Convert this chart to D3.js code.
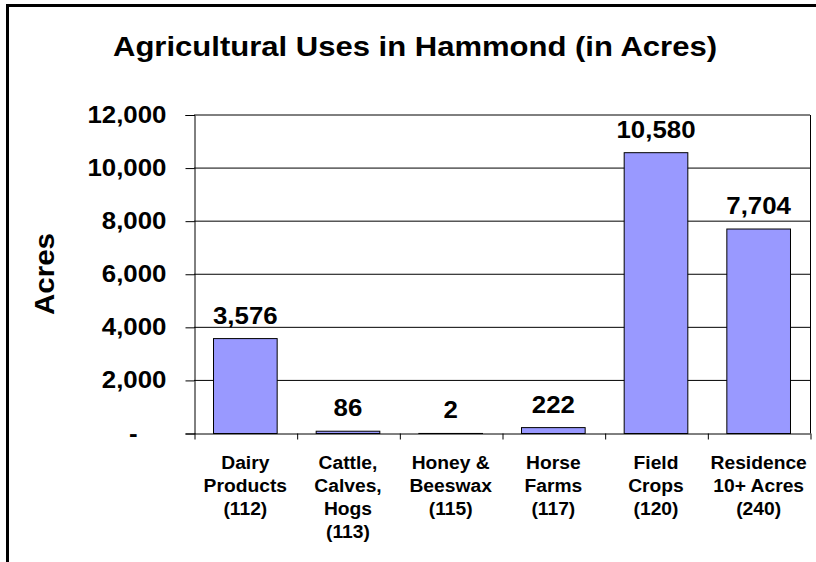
<!DOCTYPE html>
<html><head><meta charset="utf-8">
<script src="https://cdn.jsdelivr.net/npm/d3@7"></script>
<style>
body{margin:0;background:#fff}
svg{display:block}
text{font-family:Arial,"Liberation Sans",sans-serif;font-weight:bold;fill:#000}
</style>
</head><body><svg id="c" width="816" height="562"></svg>
<script>
const categories = ["Dairy\nProducts\n(112)", "Cattle,\nCalves,\nHogs\n(113)", "Honey &\nBeeswax\n(115)", "Horse\nFarms\n(117)", "Field\nCrops\n(120)", "Residence\n10+ Acres\n(240)"];
const values = [3576, 86, 2, 222, 10580, 7704];
const yTicks = [0, 2000, 4000, 6000, 8000, 10000, 12000];
const title = "Agricultural Uses in Hammond (in Acres)";
const yTitle = "Acres";

const svg = d3.select("#c");
const L = 194, R = 810, T = 115, B = 433.5;
const SX = 1.1;

function stretch(sel, sx) {
  sel.each(function() {
    const w = this.getComputedTextLength();
    d3.select(this).attr("textLength", w * sx).attr("lengthAdjust", "spacingAndGlyphs");
  });
}

// outer frame
svg.append("rect").attr("x",7.5).attr("y",5.5).attr("width",900).attr("height",700)
  .attr("fill","none").attr("stroke","#000").attr("stroke-width",3);

const x = d3.scaleBand().domain(d3.range(categories.length)).range([L,R]).paddingInner(0.38).paddingOuter(0.19);
const y = d3.scaleLinear().domain([0,12000]).range([B,T]);

// gridlines
svg.append("g").selectAll("line").data(yTicks.filter(d=>d>0)).join("line")
  .attr("x1",L).attr("x2",R).attr("y1",d=>y(d)).attr("y2",d=>y(d))
  .attr("stroke","#000").attr("stroke-width",1);
// right border
svg.append("line").attr("x1",R+0.5).attr("x2",R+0.5).attr("y1",T).attr("y2",B).attr("stroke","#000");

// bars
svg.append("g").selectAll("rect").data(values).join("rect")
  .attr("x",(d,i)=>x(i)).attr("width",x.bandwidth())
  .attr("y",d=>y(d)).attr("height",d=>B-y(d))
  .attr("fill","#9999FF").attr("stroke","#000").attr("stroke-width",1);

// y axis
const yAxis = d3.axisLeft(y).tickValues(yTicks).tickSize(9).tickPadding(19)
  .tickFormat(d=> d===0 ? "-" : d3.format(",")(d));
const gy = svg.append("g").attr("transform",`translate(${L+0.5},0)`).call(yAxis);
gy.selectAll("text").attr("font-size",23.5).attr("font-family","Arial, 'Liberation Sans', sans-serif").attr("font-weight","bold");
gy.selectAll(".tick").filter(d=>d===0).select("text").attr("dx",-29);
stretch(gy.selectAll("text"), SX);
gy.selectAll("line,path").attr("stroke","#000");

// x axis (category boundaries)
const xb = d3.scaleLinear().domain([0,categories.length]).range([L,R]);
const gx = svg.append("g").attr("transform",`translate(0,${B})`)
  .call(d3.axisBottom(xb).ticks(categories.length).tickSize(6).tickSizeOuter(0).tickFormat(""));
gx.selectAll("line,path").attr("stroke","#000");
gx.selectAll(".tick line").attr("transform","translate(0.5,0)");

// category labels
const cl = svg.append("g").selectAll("text").data(categories).join("text")
  .attr("text-anchor","middle").attr("font-size",17.5)
  .attr("transform",(d,i)=>`translate(${x(i)+x.bandwidth()/2},469)`);
cl.selectAll("tspan").data(d=>d.split("\n")).join("tspan")
  .attr("x",0).attr("y",(d,j)=>j*23).text(d=>d)
  .each(function(){ const w=this.getComputedTextLength(); d3.select(this).attr("textLength",w*SX).attr("lengthAdjust","spacingAndGlyphs"); });

// value labels
const vl = svg.append("g").selectAll("text").data(values).join("text")
  .attr("text-anchor","middle").attr("font-size",23.5)
  .attr("x",(d,i)=>x(i)+x.bandwidth()/2).attr("y",d=>y(d)-15)
  .text(d=>d3.format(",")(d));
stretch(vl, SX);

// title
svg.append("text").attr("x",415).attr("y",56).attr("text-anchor","middle")
  .attr("font-size",28).attr("textLength",604).attr("lengthAdjust","spacingAndGlyphs").text(title);

// y title
svg.append("text").attr("transform","translate(54,274) rotate(-90)")
  .attr("text-anchor","middle").attr("font-size",27).attr("textLength",82).attr("lengthAdjust","spacingAndGlyphs").text(yTitle);
</script>
</body></html>
